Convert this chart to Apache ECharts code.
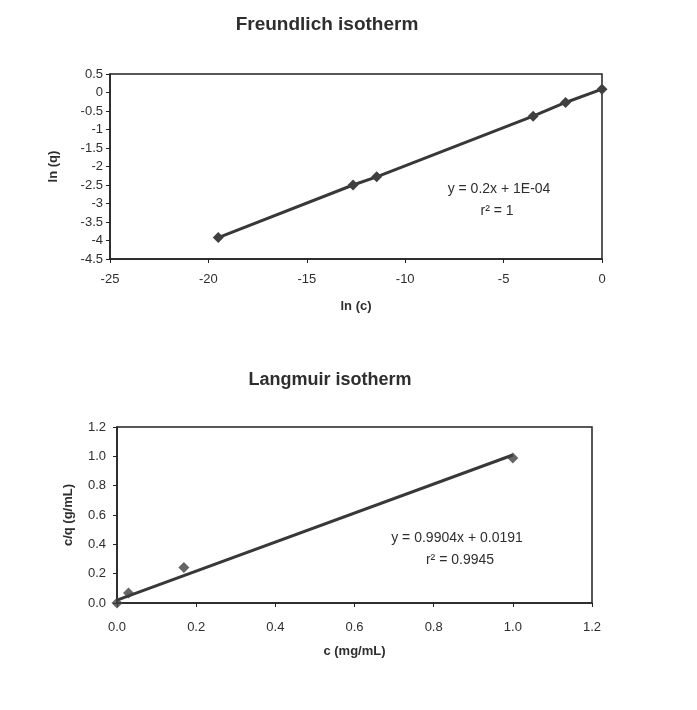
<!DOCTYPE html>
<html>
<head>
<meta charset="utf-8">
<script src="https://cdn.jsdelivr.net/npm/echarts@6/dist/echarts.min.js"></script>
<style>
html,body{margin:0;padding:0;background:#fff;}
#chart{width:697px;height:710px;}
</style>
</head>
<body>
<div id="chart"></div>
<script>
// Freundlich isotherm data (ln c, ln q)
const lnC = [-19.5, -12.65, -11.45, -3.5, -1.85, 0];
const lnQ = [-3.92, -2.5, -2.28, -0.64, -0.27, 0.09];
// Langmuir isotherm data (c, c/q)
const cVals = [0, 0.029, 0.169, 1.0];
const cqVals = [0, 0.068, 0.242, 0.989];
// Langmuir trendline endpoints
const trendC = [0, 1.0];
const trendCQ = [0.019, 1.009];

const titles = ['Freundlich isotherm', 'Langmuir isotherm'];
const eq1 = ['y = 0.2x + 1E-04', 'r² = 1'];
const eq2 = ['y = 0.9904x + 0.0191', 'r² = 0.9945'];

const FONT = '"Liberation Sans", Arial, sans-serif';
const TXT = '#2e2e2e';
const LINE = '#383838';

const chart = echarts.init(document.getElementById('chart'));

function zip(a, b) { return a.map((v, i) => [v, b[i]]); }

const axisCommon = {
  axisLine: { show: true, onZero: false, lineStyle: { color: '#222', width: 1.5 } },
  axisTick: { show: true, inside: false, length: 4, lineStyle: { color: '#222', width: 1 } },
  splitLine: { show: false },
  nameTextStyle: { fontFamily: FONT, fontWeight: 'bold', fontSize: 13, color: TXT },
};

const option = {
  backgroundColor: '#fff',
  animation: false,
  grid: [
    { left: 110, top: 74, width: 492, height: 185, show: true, borderColor: '#222', borderWidth: 1.5, containLabel: false },
    { left: 117, top: 427, width: 475, height: 176, show: true, borderColor: '#222', borderWidth: 1.5, containLabel: false }
  ],
  xAxis: [
    Object.assign({}, axisCommon, {
      gridIndex: 0, type: 'value', min: -25, max: 0, interval: 5,
      name: 'ln (c)', nameLocation: 'middle', nameGap: 41,
      axisLabel: { fontFamily: FONT, fontSize: 13, color: TXT, margin: 14 }
    }),
    Object.assign({}, axisCommon, {
      gridIndex: 1, type: 'value', min: 0, max: 1.2, interval: 0.2,
      name: 'c (mg/mL)', nameLocation: 'middle', nameGap: 42,
      axisLabel: { fontFamily: FONT, fontSize: 13, color: TXT, margin: 18, formatter: v => v.toFixed(1) }
    })
  ],
  yAxis: [
    Object.assign({}, axisCommon, {
      gridIndex: 0, type: 'value', min: -4.5, max: 0.5, interval: 0.5,
      name: 'ln (q)', nameLocation: 'middle', nameGap: 50, nameRotate: 90,
      axisLabel: { fontFamily: FONT, fontSize: 13, color: TXT, margin: 7 }
    }),
    Object.assign({}, axisCommon, {
      gridIndex: 1, type: 'value', min: 0, max: 1.2, interval: 0.2,
      name: 'c/q (g/mL)', nameLocation: 'middle', nameGap: 42, nameRotate: 90,
      axisLabel: { fontFamily: FONT, fontSize: 13, color: TXT, margin: 11, formatter: v => v.toFixed(1) }
    })
  ],
  series: [
    {
      type: 'line', xAxisIndex: 0, yAxisIndex: 0,
      data: zip(lnC, lnQ),
      symbol: 'diamond', symbolSize: 11,
      lineStyle: { color: LINE, width: 3 },
      itemStyle: { color: '#404040' }
    },
    {
      type: 'line', xAxisIndex: 1, yAxisIndex: 1,
      data: zip(trendC, trendCQ),
      symbol: 'none',
      lineStyle: { color: LINE, width: 3 }
    },
    {
      type: 'scatter', xAxisIndex: 1, yAxisIndex: 1,
      data: zip(cVals, cqVals),
      symbol: 'diamond', symbolSize: 11,
      itemStyle: { color: '#404040' },
      z: 3
    }
  ],
  graphic: [
    { type: 'text', x: 327, y: 25, style: { text: titles[0], font: 'bold 19px ' + FONT, fill: TXT, align: 'center', verticalAlign: 'middle' } },
    { type: 'text', x: 330, y: 380, style: { text: titles[1], font: 'bold 18px ' + FONT, fill: TXT, align: 'center', verticalAlign: 'middle' } },
    { type: 'text', x: 499, y: 189, style: { text: eq1[0], font: '14px ' + FONT, fill: TXT, align: 'center', verticalAlign: 'middle' } },
    { type: 'text', x: 497, y: 211, style: { text: eq1[1], font: '14px ' + FONT, fill: TXT, align: 'center', verticalAlign: 'middle' } },
    { type: 'text', x: 457, y: 538, style: { text: eq2[0], font: '14px ' + FONT, fill: TXT, align: 'center', verticalAlign: 'middle' } },
    { type: 'text', x: 460, y: 560, style: { text: eq2[1], font: '14px ' + FONT, fill: TXT, align: 'center', verticalAlign: 'middle' } }
  ]
};
chart.setOption(option);
</script>
</body>
</html>
